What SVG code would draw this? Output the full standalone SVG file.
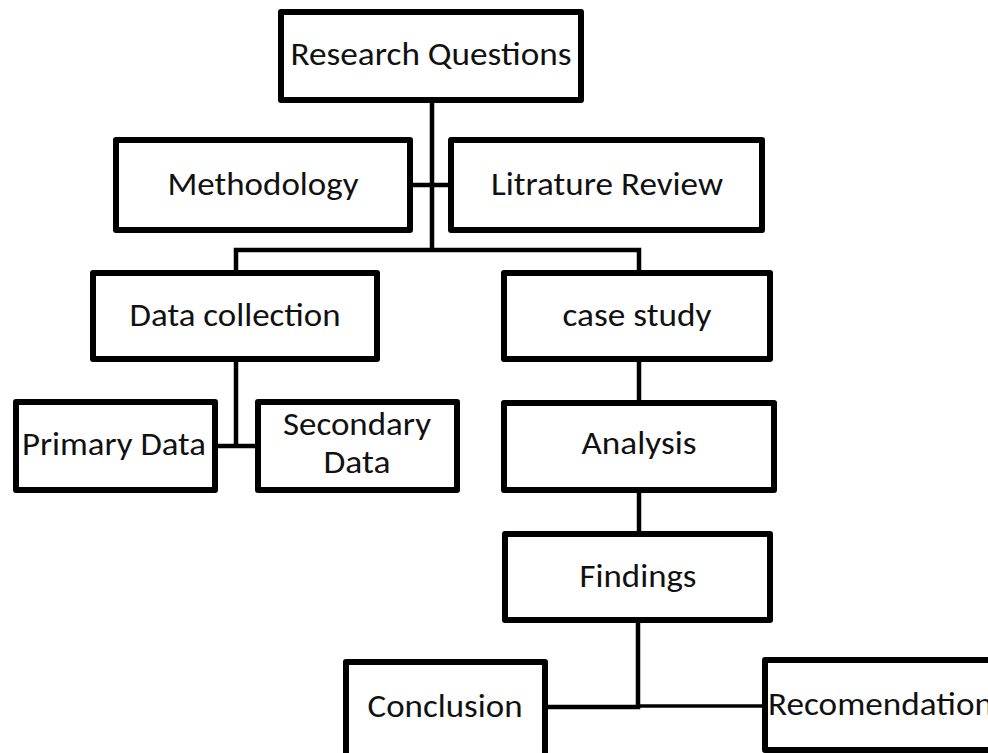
<svg xmlns="http://www.w3.org/2000/svg" width="988" height="753" viewBox="0 0 988 753">
<style>
.box{fill:#fff;stroke:#000;stroke-width:6;stroke-linejoin:round}
.con{fill:none;stroke:#000;stroke-width:4.5}
.thin{fill:none;stroke:#000;stroke-width:3.5}
text{font-family:Carlito,Calibri,Lato,"Liberation Sans",sans-serif;font-size:32px;fill:#111;text-anchor:middle}
</style>
<rect width="988" height="753" fill="#fff"/>
<g id="connectors">
<path class="con" d="M432,103 V250"/>
<path class="con" d="M413,185 H448"/>
<path class="con" d="M236,271 V250 H639 V271"/>
<path class="con" d="M236,362 V446"/>
<path class="con" d="M218,446 H255"/>
<path class="con" d="M639,362 V400"/>
<path class="con" d="M639,493 V531"/>
<path class="con" d="M638,623 V707 H548"/>
<path class="thin" d="M638,706 H762"/>
</g>
<g id="research-questions">
<rect class="box" x="281" y="12" width="300" height="88"/>
<text x="431" y="65" textLength="281" lengthAdjust="spacingAndGlyphs">Research Questions</text>
</g>
<g id="methodology">
<rect class="box" x="116" y="140" width="294" height="90"/>
<text x="263" y="195" textLength="191" lengthAdjust="spacingAndGlyphs">Methodology</text>
</g>
<g id="literature-review">
<rect class="box" x="451" y="140" width="311" height="90"/>
<text x="607" y="195" textLength="232" lengthAdjust="spacingAndGlyphs">Litrature Review</text>
</g>
<g id="data-collection">
<rect class="box" x="93" y="273" width="284" height="86"/>
<text x="235" y="326" textLength="211" lengthAdjust="spacingAndGlyphs">Data collection</text>
</g>
<g id="case-study">
<rect class="box" x="504" y="273" width="266" height="86"/>
<text x="637" y="326" textLength="149" lengthAdjust="spacingAndGlyphs">case study</text>
</g>
<g id="primary-data">
<rect class="box" x="16" y="402" width="199" height="88"/>
<text x="114" y="455" textLength="184" lengthAdjust="spacingAndGlyphs">Primary Data</text>
</g>
<g id="secondary-data">
<rect class="box" x="258" y="402" width="199" height="88"/>
<text x="357" y="435" textLength="148" lengthAdjust="spacingAndGlyphs">Secondary</text>
<text x="357" y="473" textLength="67" lengthAdjust="spacingAndGlyphs">Data</text>
</g>
<g id="analysis">
<rect class="box" x="504" y="403" width="270" height="87"/>
<text x="639" y="454" textLength="115" lengthAdjust="spacingAndGlyphs">Analysis</text>
</g>
<g id="findings">
<rect class="box" x="505" y="534" width="265" height="86"/>
<text x="638" y="587" textLength="117" lengthAdjust="spacingAndGlyphs">Findings</text>
</g>
<g id="conclusion">
<rect class="box" x="346" y="662" width="199" height="100"/>
<text x="445" y="717" textLength="155" lengthAdjust="spacingAndGlyphs">Conclusion</text>
</g>
<g id="recomendation">
<rect class="box" x="765" y="660" width="240" height="90"/>
<text x="768" y="715" style="text-anchor:start" textLength="225" lengthAdjust="spacingAndGlyphs">Recomendation</text>
</g>
</svg>
